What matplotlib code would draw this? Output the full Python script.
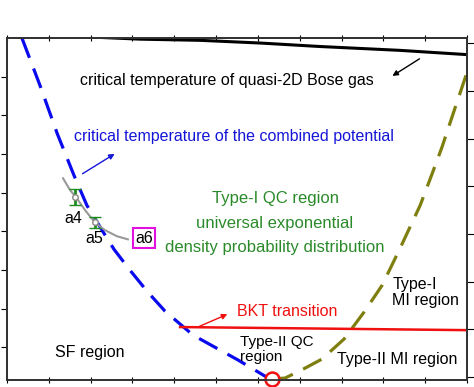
import matplotlib
matplotlib.use("Agg")
import matplotlib.pyplot as plt
import numpy as np

plt.rcParams['font.family'] = ['Liberation Sans', 'DejaVu Sans']

# Phase boundaries (x in tick units, y in left-axis units)
bose_x = [1.27, 3.18, 4.61, 6.05, 7.48, 9.40, 11.0]
bose_y = [9.06, 8.97, 8.94, 8.87, 8.78, 8.68, 8.57]

comb_x = [0.36, 0.79, 1.20, 1.60, 1.91, 2.27, 2.56, 2.92, 3.37, 3.78, 4.45, 5.52, 6.17, 6.36]
comb_y = [8.99, 7.77, 6.53, 5.45, 4.67, 4.03, 3.53, 3.02, 2.42, 1.93, 1.31, 0.67, 0.25, 0.18]

mi_x = [6.36, 6.65, 7.08, 7.53, 8.06, 8.54, 8.97, 9.40, 9.88, 10.16, 10.40, 10.64, 11.0]
mi_y = [0.18, 0.20, 0.43, 0.69, 1.21, 1.91, 2.60, 3.56, 4.67, 5.47, 6.17, 6.95, 8.11]

bkt_x = [4.14, 11.0]
bkt_y = [1.52, 1.44]

qcp_x, qcp_y = 6.34, 0.18

gray_x = [1.34, 1.51, 1.65, 1.87, 2.10, 2.34, 2.63, 2.89]
gray_y = [5.37, 5.06, 4.88, 4.54, 4.23, 4.03, 3.87, 3.79]

pts_x = [1.63, 2.10]
pts_y = [4.88, 4.23]
pts_err = [0.21, 0.15]

fig = plt.figure(figsize=(4.74, 3.87), dpi=100)
ax = fig.add_axes([7/474, 7/387, 460/474, 342/387])
ax.set_xlim(0, 11)
ax.set_ylim(0.15, 9.0)

ax.plot(bose_x, bose_y, color='black', lw=2.2, solid_capstyle='butt')
ax.plot(comb_x, comb_y, color='#0a0aee', lw=2.3, dashes=(6.5, 3.6))
ax.plot(mi_x, mi_y, color='#7f7f10', lw=2.3, dashes=(6.5, 3.6))
ax.plot(bkt_x, bkt_y, color='#f01010', lw=1.8)
ax.plot(gray_x, gray_y, color='#999999', lw=1.5)
ax.errorbar(pts_x, pts_y, yerr=pts_err, fmt='o', ms=4, mfc='white',
            mec='#888888', mew=1, ecolor='#1e8c1e', elinewidth=2, capsize=4, capthick=2)
ax.plot([qcp_x], [qcp_y], 'o', ms=10, mfc='white', mec='#f01010', mew=1.8,
        clip_on=False, zorder=5)

# texts
fs = 11.5
ax.text(1.75, 7.90, 'critical temperature of quasi-2D Bose gas', fontsize=fs,
        color='black', va='center')
ax.annotate('', xy=(9.16, 7.98), xytext=(9.92, 8.50),
            arrowprops=dict(arrowstyle='-|>', color='black', lw=1, mutation_scale=8))

ax.text(1.60, 6.45, 'critical temperature of the combined potential', fontsize=fs,
        color='#1515d8', va='center')
ax.annotate('', xy=(2.63, 6.04), xytext=(1.75, 5.45),
            arrowprops=dict(arrowstyle='-|>', color='#1515d8', lw=1, mutation_scale=8))

green = '#2a8a2a'
ax.text(6.41, 4.85, 'Type-I QC region', fontsize=12, color=green, ha='center', va='center')
ax.text(6.41, 4.21, 'universal exponential', fontsize=12, color=green, ha='center', va='center')
ax.text(6.41, 3.59, 'density probability distribution', fontsize=12, color=green,
        ha='center', va='center')

ax.text(1.58, 4.34, 'a4', fontsize=fs, ha='center', va='center')
ax.text(2.08, 3.82, 'a5', fontsize=fs, ha='center', va='center')
ax.text(3.28, 3.82, 'a6', fontsize=fs, ha='center', va='center',
        bbox=dict(boxstyle='square,pad=0.15', fc='white', ec='#e010e0', lw=1.5))

ax.text(5.50, 1.91, 'BKT transition', fontsize=fs, color='#f01010', va='center')
ax.annotate('', xy=(5.33, 1.88), xytext=(4.50, 1.49),
            arrowprops=dict(arrowstyle='-|>', color='#f01010', lw=1, mutation_scale=8))

ax.text(1.98, 0.87, 'SF region', fontsize=fs, ha='center', va='center')
ax.text(5.57, 0.95, 'Type-II QC\nregion', fontsize=11, va='center', linespacing=1.1)
ax.text(9.21, 2.42, 'Type-I\nMI region', fontsize=fs, va='center', linespacing=1.1)
ax.text(7.89, 0.69, 'Type-II MI region', fontsize=fs, va='center')

ax.set_xticks(np.arange(0, 12))
ax.set_yticks(np.arange(1, 9))
ax.tick_params(axis='x', which='both', bottom=True, top=True, direction='out', length=5,
               labelbottom=False)
ax.tick_params(axis='x', top=True, direction='inout', length=4)
ax.tick_params(axis='y', left=True, direction='out', length=4, labelleft=False)

ax2 = ax.twinx()
ax2.set_ylim(-0.063, 7.11)
ax2.set_yticks(np.arange(0, 8))
ax2.tick_params(axis='y', direction='out', length=6, labelright=False)

for a in (ax, ax2):
    for s in a.spines.values():
        s.set_linewidth(1.3)
        s.set_color('#333333')

fig.savefig('out.png', dpi=100)
